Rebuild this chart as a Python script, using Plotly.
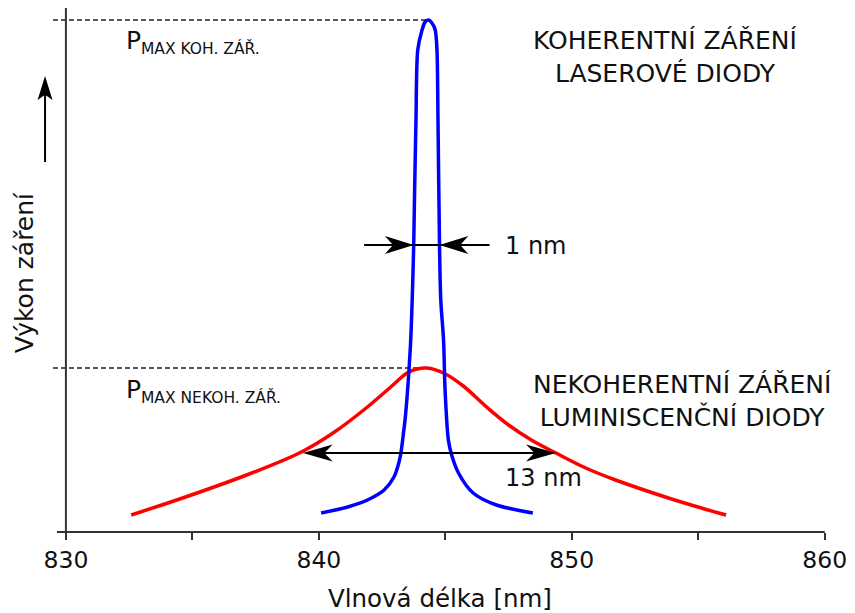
import plotly.graph_objects as go

# ---------------- data ----------------
laser_nm = [840.09, 841.14, 841.92, 842.58, 842.97, 843.16, 843.25, 843.36, 843.42, 843.62,
            843.69, 843.75, 843.78, 843.84, 843.91, 844.08, 844.20, 844.34, 844.47, 844.60,
            844.67, 844.71, 844.77, 844.82, 844.93, 844.99, 845.12, 845.25, 845.52, 846.10,
            847.02, 848.46]
laser_power = [19, 25, 32, 42, 55, 69, 80, 102, 115, 186,
               232, 287, 332, 412, 482, 502, 510, 512, 509, 502,
               482, 412, 287, 232, 192, 142, 92, 77, 59, 39,
               27, 19]

led_nm = [832.58, 834.73, 837.35, 839.31, 840.62, 841.92, 842.84, 843.49, 843.88, 844.27,
          844.93, 845.71, 846.63, 847.50, 848.40, 849.37, 850.55, 851.73, 853.82, 855.12,
          856.10]
led_power = [17, 35, 59, 80, 100, 125, 145, 159, 163, 164,
             159, 146, 125, 107, 92, 79, 64, 52, 34, 24,
             17]

x_tick_vals = [830, 835, 840, 845, 850, 855, 860]
x_tick_text = ["830", "", "840", "", "850", "", "860"]

laser_fwhm_nm = [843.75, 844.77]     # inner arrow tips ("1 nm")
laser_fwhm_level = 287
laser_fwhm_tails = [841.79, 846.75]
led_fwhm_nm = [839.37, 849.37]       # outer arrow tips ("13 nm")
led_fwhm_level = 79

# ---------------- layout geometry (reference pixel frame) ----------------
W, H = 855, 613
ML, MR, MT, MB = 52, 23, 8, 81
X0, X1 = 829.45, 860.05
Y0, Y1 = 0, 524
PW = W - ML - MR
PH = H - MT - MB
SX = PW / (X1 - X0)
SY = PH / (Y1 - Y0)

FONT = "DejaVu Sans"
TXT = "#111111"
AX = "#333333"


def px2x(px):
    return X0 + (px - ML) / SX


def py2y(py):
    return Y0 + (H - MB - py) / SY


def x2px(x):
    return ML + (x - X0) * SX


def y2py(y):
    return H - MB - (y - Y0) * SY


def px2paper(px):
    return (px - ML) / PW


def py2paper(py):
    return (H - MB - py) / PH


def head_path(tip_px, tip_py, dx, dy, L, Wd, conv_x, conv_y, notch=0.72):
    # stealth arrowhead in pixel space, converted to the reference coords
    nx, ny = -dy, dx
    pts = [
        (tip_px, tip_py),
        (tip_px - dx * L + nx * Wd / 2, tip_py - dy * L + ny * Wd / 2),
        (tip_px - dx * L * notch, tip_py - dy * L * notch),
        (tip_px - dx * L - nx * Wd / 2, tip_py - dy * L - ny * Wd / 2),
    ]
    return "M " + " L ".join(f"{conv_x(p[0]):.5f},{conv_y(p[1]):.5f}" for p in pts) + " Z"


fig = go.Figure()

fig.add_trace(go.Scatter(x=led_nm, y=led_power, mode="lines",
                         line=dict(color="#ff0000", width=3.5, shape="spline", smoothing=1.0),
                         hoverinfo="skip", showlegend=False))
fig.add_trace(go.Scatter(x=laser_nm, y=laser_power, mode="lines",
                         line=dict(color="#0000ff", width=3.5, shape="spline", smoothing=0.8),
                         hoverinfo="skip", showlegend=False))

shapes = []
# axis lines (paper coords so they are not clipped)
shapes.append(dict(type="line", xref="paper", yref="paper",
                   x0=px2paper(57), x1=(860 - X0) / (X1 - X0), y0=0, y1=0,
                   line=dict(color=AX, width=2)))
shapes.append(dict(type="line", xref="paper", yref="paper",
                   x0=(830 - X0) / (X1 - X0), x1=(830 - X0) / (X1 - X0), y0=0, y1=1,
                   line=dict(color=AX, width=2)))

# dashed maximum lines
i_l = laser_power.index(max(laser_power))
i_r = led_power.index(max(led_power))
for xe, ye in [(laser_nm[i_l], laser_power[i_l]), (led_nm[i_r] - 0.25, led_power[i_r])]:
    shapes.append(dict(type="line", xref="x", yref="y", x0=px2x(53), x1=xe, y0=ye, y1=ye,
                       line=dict(color="#222222", width=1.3, dash="5px,3px"), layer="below"))

# 1 nm arrow: one line with two inward heads
shapes.append(dict(type="line", xref="x", yref="y",
                   x0=laser_fwhm_tails[0], x1=laser_fwhm_tails[1],
                   y0=laser_fwhm_level, y1=laser_fwhm_level,
                   line=dict(color="black", width=1.8)))
for tip, d in [(laser_fwhm_nm[0], 1), (laser_fwhm_nm[1], -1)]:
    shapes.append(dict(type="path", xref="x", yref="y", fillcolor="black",
                       line=dict(width=0),
                       path=head_path(x2px(tip), y2py(laser_fwhm_level), d, 0, 29, 18,
                                      px2x, py2y)))

# 13 nm arrow: outward heads
shapes.append(dict(type="line", xref="x", yref="y",
                   x0=led_fwhm_nm[0] + 0.6, x1=led_fwhm_nm[1] - 0.6,
                   y0=led_fwhm_level, y1=led_fwhm_level,
                   line=dict(color="black", width=1.8)))
for tip, d in [(led_fwhm_nm[0], -1), (led_fwhm_nm[1], 1)]:
    shapes.append(dict(type="path", xref="x", yref="y", fillcolor="black",
                       line=dict(width=0),
                       path=head_path(x2px(tip), y2py(led_fwhm_level), d, 0, 30, 17,
                                      px2x, py2y)))

# power arrow next to the y axis title
shapes.append(dict(type="line", xref="paper", yref="paper",
                   x0=px2paper(45), x1=px2paper(45), y0=py2paper(162), y1=py2paper(90),
                   line=dict(color="black", width=2)))
shapes.append(dict(type="path", xref="paper", yref="paper", fillcolor="black",
                   line=dict(width=0),
                   path=head_path(45, 76, 0, -1, 24, 15, px2paper, py2paper, notch=0.78)))

ann = []


def add_text(text, px, py, size=24, xanchor="left", align="left", textangle=0):
    ann.append(dict(text=text, xref="paper", yref="paper", x=px2paper(px), y=py2paper(py),
                    xanchor=xanchor, yanchor="middle", align=align, showarrow=False,
                    textangle=textangle, font=dict(family=FONT, size=size, color=TXT)))


add_text("KOHERENTNÍ ZÁŘENÍ<br>LASEROVÉ DIODY", 670, 57, size=25, xanchor="center", align="center")
add_text("NEKOHERENTNÍ ZÁŘENÍ<br>LUMINISCENČNÍ DIODY", 687, 401, size=25, xanchor="center",
         align="center")
add_text("1 nm", 506, 246)
add_text("13 nm", 506, 478)
add_text("P", 125, 40, size=25)
add_text("MAX KOH. ZÁŘ.", 140, 48, size=15.5)
add_text("P", 125, 389, size=25)
add_text("MAX NEKOH. ZÁŘ.", 140, 397, size=15.5)
add_text("Vlnová délka [nm]", 443, 598, size=24.5, xanchor="center", align="center")
add_text("Výkon záření", 24, 273, size=25, xanchor="center", align="center", textangle=-90)

fig.update_layout(
    width=W, height=H, autosize=False,
    margin=dict(l=ML, r=MR, t=MT, b=MB, pad=0),
    paper_bgcolor="white", plot_bgcolor="white",
    font=dict(family=FONT, color=TXT),
    shapes=shapes, annotations=ann, showlegend=False,
    xaxis=dict(range=[X0, X1], showgrid=False, zeroline=False, showline=False,
               tickmode="array", tickvals=x_tick_vals, ticktext=x_tick_text,
               ticks="outside", ticklen=7, tickwidth=1.5, tickcolor=AX,
               tickfont=dict(family=FONT, size=23.5, color=TXT), fixedrange=True),
    yaxis=dict(range=[Y0, Y1], showgrid=False, zeroline=False, showline=False,
               showticklabels=False, ticks="", fixedrange=True),
)

# remove the page's default body margin so the figure sits at the window origin,
# then re-apply the intended size
post = ("document.body.style.margin='0';document.body.style.overflow='hidden';"
        "var gd=document.getElementById('{plot_id}');"
        "gd.style.width='855px';gd.style.height='613px';"
        "Plotly.relayout(gd,{width:855,height:613,autosize:false});")
fig.write_html("out.html", config={"displayModeBar": False, "responsive": False},
               post_script=post)
